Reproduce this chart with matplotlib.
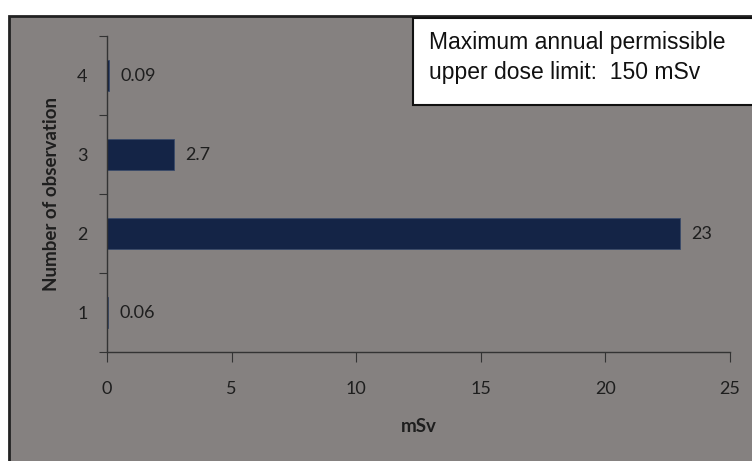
import matplotlib.pyplot as plt
from matplotlib.patches import Rectangle

observations = [1, 2, 3, 4]
dose_msv = [0.06, 23, 2.7, 0.09]
value_labels = ['0.06', '23', '2.7', '0.09']
x_ticks = [0, 5, 10, 15, 20, 25]

W, H = 752, 461
bg = '#858180'
bar_color = '#142446'
txt_color = '#1e1e1e'
tick_font = 'Lato'

fig = plt.figure(figsize=(W / 100, H / 100), dpi=100, facecolor='white')

# outer chart frame
fig.patches.append(Rectangle((9 / W, -0.01), 1.0, 1 - 16 / H + 0.01,
                             transform=fig.transFigure, facecolor=bg,
                             edgecolor='#222222', linewidth=2, zorder=-1))

ax = fig.add_axes([107 / W, 1 - 352 / H, 623 / W, 316 / H])
ax.set_facecolor('none')

ax.barh(observations, dose_msv, height=0.38, color=bar_color,
        edgecolor='#3a4a6a', linewidth=0.6)
for y, v, lab in zip(observations, dose_msv, value_labels):
    ax.annotate(lab, (v, y), xytext=(8, 0), textcoords='offset points',
                va='center', ha='left', fontsize=13, color=txt_color,
                family=tick_font)

ax.set_xlim(0, 25)
ax.set_ylim(0.5, 4.5)
ax.set_xticks(x_ticks)
ax.set_xticklabels([str(t) for t in x_ticks], family=tick_font,
                   fontsize=13, color=txt_color)
ax.set_yticks([0.5, 1.5, 2.5, 3.5, 4.5])
ax.set_yticklabels([])
ax.set_yticks(observations, minor=True)
ax.set_yticklabels([str(o) for o in observations], minor=True,
                   family=tick_font, fontsize=13, color=txt_color)
ax.tick_params(axis='y', which='major', length=6, color='#333333', direction='out')
ax.tick_params(axis='y', which='minor', length=0, pad=14)
ax.tick_params(axis='x', length=7, color='#333333', direction='out', pad=14)

for s in ['top', 'right']:
    ax.spines[s].set_visible(False)
for s in ['left', 'bottom']:
    ax.spines[s].set_color('#333333')
    ax.spines[s].set_linewidth(1.0)

ax.set_xlabel('mSv', family=tick_font, fontweight='bold', fontsize=13.5,
              color=txt_color, labelpad=15)
ax.set_ylabel('Number of observation', family=tick_font, fontweight='bold',
              fontsize=13.5, color=txt_color, labelpad=12)

# annotation box
fig.patches.append(Rectangle((413 / W, 1 - 105 / H), 1.0, 87 / H,
                             transform=fig.transFigure, facecolor='white',
                             edgecolor='#111111', linewidth=1.5, zorder=3))
fig.text(429 / W, 1 - 43 / H, 'Maximum annual permissible',
         family='Liberation Sans', fontsize=16.5, va='center', ha='left',
         color='#111111', zorder=4)
fig.text(429 / W, 1 - 73 / H, 'upper dose limit:  150 mSv',
         family='Liberation Sans', fontsize=16.5, va='center', ha='left',
         color='#111111', zorder=4)

fig.savefig('out.png', dpi=100, facecolor=fig.get_facecolor())
